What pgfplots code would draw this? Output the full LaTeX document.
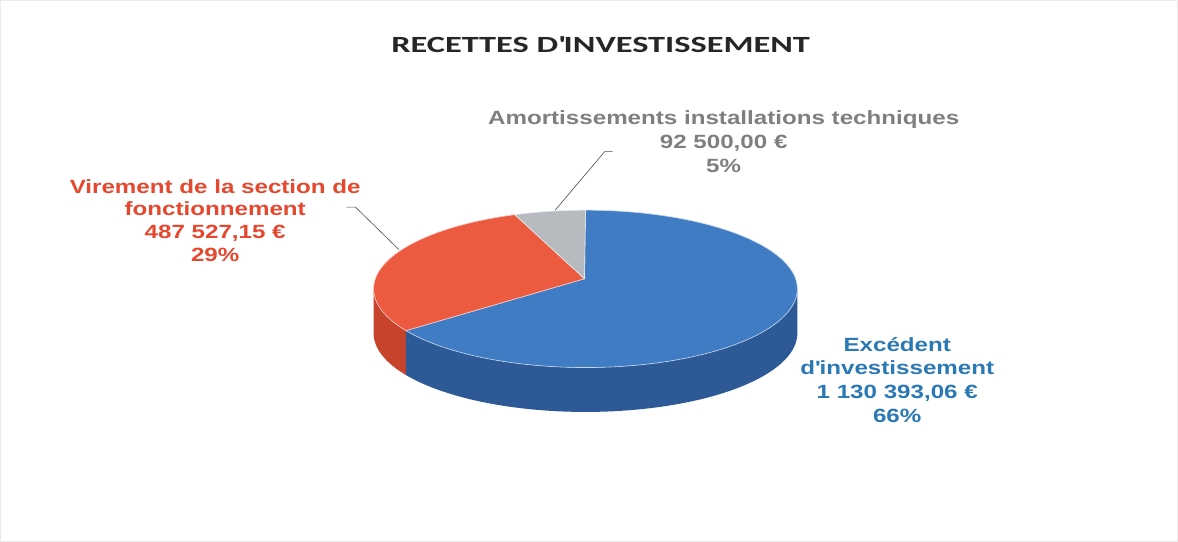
\documentclass[border=0pt]{standalone}
\usepackage{pgfplots}
\pgfplotsset{compat=1.18}
\usepgfplotslibrary{fillbetween}
\usepackage{fontspec}
\setmainfont{Liberation Sans}[FakeStretch=1.26]
\newfontfamily\titlefont{Carlito}[FakeStretch=1.48]

\definecolor{blueTop}{HTML}{3F7CC4}
\definecolor{blueSide}{HTML}{2D5A97}
\definecolor{redTop}{HTML}{EC5A40}
\definecolor{redSide}{HTML}{C8432C}
\definecolor{greyTop}{HTML}{B7BBC0}
\definecolor{redTxt}{HTML}{E5482F}
\definecolor{greyTxt}{HTML}{7F7F7F}
\definecolor{blueTxt}{HTML}{2A78B4}
\definecolor{titleTxt}{HTML}{262626}

% values (EUR)
\def\vA{1130393.06} % Excedent d'investissement
\def\vB{487527.15}  % Virement de la section de fonctionnement
\def\vC{92500.00}   % Amortissements installations techniques
\edef\tot{\fpeval{\vA+\vB+\vC}}
\edef\eA{\fpeval{90-360*\vA/\tot}}
\edef\eB{\fpeval{\eA-360*\vB/\tot}}
\edef\eAp{\fpeval{\eA+360}}

% geometry (1 unit = 1 pt)
\def\cx{585}\def\cy{253}\def\rx{210}\def\ry{78}\def\th{44}
\def\ax{584}\def\ay{263}

\begin{document}
\begin{tikzpicture}
\begin{axis}[
  width=1178pt, height=547pt, scale only axis,
  xmin=0, xmax=1178, ymin=0, ymax=547,
  hide axis, clip=false]

% frame
\draw[black!8, line width=0.6pt] (axis cs:5,3) rectangle (axis cs:1172,539);

% side walls (front half)
\addplot[name path=rTop, draw=none, variable=\t, domain=180:\eAp, samples=30]
  ({\cx+\rx*cos(\t)},{\cy+\ry*sin(\t)});
\addplot[name path=rBot, draw=none, variable=\t, domain=180:\eAp, samples=30]
  ({\cx+\rx*cos(\t)},{\cy-\th+\ry*sin(\t)});
\addplot[redSide, draw=none] fill between[of=rTop and rBot];

\addplot[name path=bTop, draw=none, variable=\t, domain=\eAp:360, samples=120]
  ({\cx+\rx*cos(\t)},{\cy+\ry*sin(\t)});
\addplot[name path=bBot, draw=none, variable=\t, domain=\eAp:360, samples=120]
  ({\cx+\rx*cos(\t)},{\cy-\th+\ry*sin(\t)});
\addplot[blueSide, draw=none] fill between[of=bTop and bBot];

% top face slices
\addplot[fill=blueTop, draw=white!70!blueTop, line width=0.6pt, variable=\t, domain=\eA:90, samples=150]
  ({\cx+\rx*cos(\t)},{\cy+\ry*sin(\t)}) -- (axis cs:\ax,\ay) -- cycle;
\addplot[fill=redTop, draw=white!70!redTop, line width=0.6pt, variable=\t, domain=\eB:\eA, samples=70]
  ({\cx+\rx*cos(\t)},{\cy+\ry*sin(\t)}) -- (axis cs:\ax,\ay) -- cycle;
\addplot[fill=greyTop, draw=white!70!greyTop, line width=0.6pt, variable=\t, domain=-270:\eB, samples=20]
  ({\cx+\rx*cos(\t)},{\cy+\ry*sin(\t)}) -- (axis cs:\ax,\ay) -- cycle;

% leader lines
\draw[black!70, line width=0.6pt] (axis cs:348,334) -- (axis cs:357,334) -- (axis cs:400,292);
\draw[black!70, line width=0.6pt] (axis cs:612,389) -- (axis cs:604,389) -- (axis cs:555,331);

% title
\node[titleTxt, font=\titlefont\bfseries\fontsize{23}{28}\selectfont] at (axis cs:600,495) {RECETTES D\textquotesingle INVESTISSEMENT};

% labels
\node[redTxt, align=center, font=\bfseries\fontsize{19}{22.5}\selectfont] at (axis cs:218,321)
  {Virement de la section de\\fonctionnement\\487 527,15 €\\29\%};
\node[greyTxt, align=center, font=\bfseries\fontsize{19}{23.5}\selectfont] at (axis cs:722,399)
  {Amortissements installations techniques\\92 500,00 €\\5\%};
\node[blueTxt, align=center, font=\bfseries\fontsize{19}{23.5}\selectfont] at (axis cs:894,163)
  {Excédent\\d\textquotesingle investissement\\1 130 393,06 €\\66\%};
\end{axis}
\end{tikzpicture}
\end{document}
